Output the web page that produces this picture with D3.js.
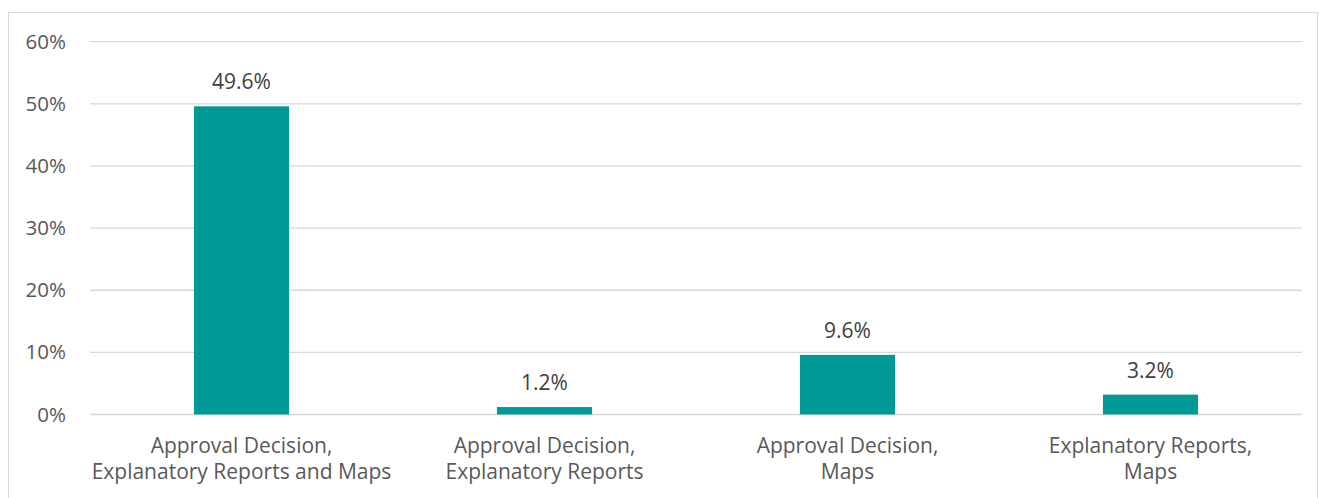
<!DOCTYPE html>
<html lang="en">
<head>
<meta charset="UTF-8" />
<title>Documents share</title>
<script src="https://d3js.org/d3.v7.min.js"></script>
<style>
  html, body { margin: 0; padding: 0; background: #fff; }
  svg { display: block; font-family: "Open Sans", sans-serif; }
</style>
</head>
<body>
<svg id="chart" width="1319" height="498"></svg>
<script>
  // data
  const categories = [
    ["Approval Decision,", "Explanatory Reports and Maps"],
    ["Approval Decision,", "Explanatory Reports"],
    ["Approval Decision,", "Maps"],
    ["Explanatory Reports,", "Maps"]
  ];
  const values = [0.496, 0.012, 0.096, 0.032];
  const yTicks = [0, 0.1, 0.2, 0.3, 0.4, 0.5, 0.6];

  const svg = d3.select("#chart");
  const W = 1319, H = 498;
  const margin = { top: 41.7, right: 17, bottom: 83.5, left: 90 };
  const w = W - margin.left - margin.right;
  const h = H - margin.top - margin.bottom;

  // outer chart border
  svg.append("rect")
    .attr("x", 8.5).attr("y", 12.5)
    .attr("width", 1309).attr("height", 500)
    .attr("fill", "none")
    .attr("stroke", "#d9d9d9");

  const g = svg.append("g")
    .attr("transform", `translate(${margin.left},${margin.top})`);

  const keys = categories.map((d, i) => i);
  const x = d3.scaleBand().domain(keys).range([0, w]).paddingInner(0.686).paddingOuter(0.343);
  const y = d3.scaleLinear().domain([0, 0.6]).range([h, 0]);

  // gridlines
  g.append("g")
    .selectAll("line")
    .data(yTicks)
    .enter().append("line")
      .attr("x1", 0).attr("x2", w)
      .attr("y1", d => y(d)).attr("y2", d => y(d))
      .attr("stroke", "#d9d9d9")
      .attr("stroke-width", 1.3);

  // y axis labels
  const yAxis = d3.axisLeft(y)
    .tickValues(yTicks)
    .tickFormat(d3.format(".0%"))
    .tickSize(0)
    .tickPadding(24);

  g.append("g")
    .call(yAxis)
    .call(a => a.select(".domain").remove())
    .selectAll("text")
      .attr("font-family", "Open Sans")
      .attr("font-size", "20.5px")
      .attr("fill", "#595959");

  // bars
  g.selectAll(".bar")
    .data(values)
    .enter().append("rect")
      .attr("class", "bar")
      .attr("x", (d, i) => x(i))
      .attr("width", x.bandwidth())
      .attr("y", d => y(d))
      .attr("height", d => h - y(d))
      .attr("fill", "#009995");

  // data labels
  g.selectAll(".val")
    .data(values)
    .enter().append("text")
      .attr("class", "val")
      .attr("x", (d, i) => x(i) + x.bandwidth() / 2)
      .attr("y", d => y(d) - 17)
      .attr("text-anchor", "middle")
      .attr("font-size", "21px")
      .attr("fill", "#404040")
      .text(d => d3.format(".1%")(d));

  // category labels, two lines each
  const cat = g.selectAll(".cat")
    .data(categories)
    .enter().append("text")
      .attr("class", "cat")
      .attr("text-anchor", "middle")
      .attr("font-size", "21px")
      .attr("fill", "#595959")
      .attr("transform", (d, i) => `translate(${x(i) + x.bandwidth() / 2},${h + 38})`);

  cat.selectAll("tspan")
    .data(d => d)
    .enter().append("tspan")
      .attr("x", 0)
      .attr("y", (d, i) => i * 26)
      .text(d => d);
</script>
</body>
</html>
